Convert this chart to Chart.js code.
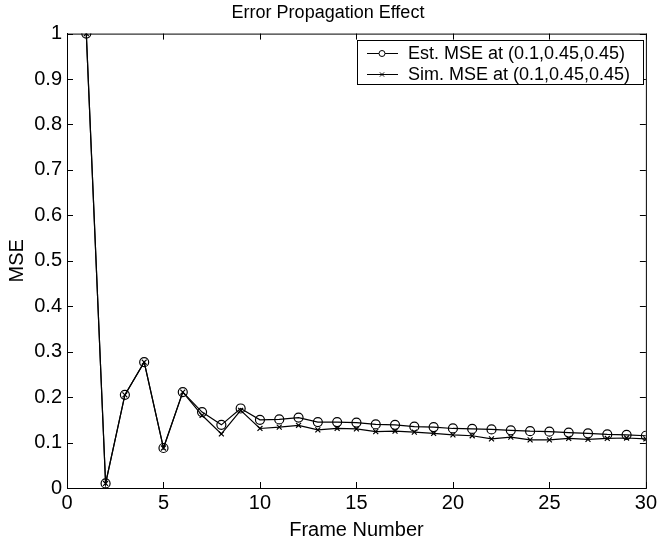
<!DOCTYPE html>
<html>
<head>
<meta charset="utf-8">
<script src="https://cdn.jsdelivr.net/npm/chart.js@4"></script>
<style>
  html, body { margin: 0; padding: 0; background: #fff; }
  #wrap { width: 660px; height: 544px; }
</style>
</head>
<body>
<div id="wrap"><canvas id="c" width="660" height="544"></canvas></div>
<script>
const frames = [1,2,3,4,5,6,7,8,9,10,11,12,13,14,15,16,17,18,19,20,21,22,23,24,25,26,27,28,29,30];
const estMSE = [1.0,0.010,0.205,0.277,0.088,0.211,0.167,0.139,0.175,0.150,0.151,0.155,0.145,0.145,0.144,0.140,0.139,0.135,0.134,0.131,0.130,0.129,0.127,0.125,0.124,0.122,0.120,0.118,0.117,0.115];
const simMSE = [1.0,0.010,0.205,0.277,0.088,0.211,0.160,0.119,0.171,0.131,0.134,0.138,0.128,0.131,0.130,0.124,0.125,0.123,0.120,0.117,0.115,0.108,0.112,0.106,0.106,0.109,0.107,0.109,0.110,0.108];
const xTicks = [0,5,10,15,20,25,30];
const yTicks = [0,0.1,0.2,0.3,0.4,0.5,0.6,0.7,0.8,0.9,1];
const seriesNames = ['Est. MSE at (0.1,0.45,0.45)', 'Sim. MSE at (0.1,0.45,0.45)'];

const FONT = 'Liberation Sans, Arial, Helvetica, sans-serif';

// MATLAB style box: inward ticks on all four sides plus top/right border
const boxPlugin = {
  id: 'box',
  afterDraw(chart) {
    const ctx = chart.ctx;
    const a = chart.chartArea;
    const xs = chart.scales.x, ys = chart.scales.y;
    const len = 6;
    ctx.save();
    ctx.strokeStyle = '#000';
    ctx.lineWidth = 1;
    ctx.strokeRect(a.left + 0.5, a.top + 0.5, a.right - a.left, a.bottom - a.top);
    ctx.beginPath();
    xTicks.forEach(v => {
      const px = Math.round(xs.getPixelForValue(v)) + 0.5;
      ctx.moveTo(px, a.bottom); ctx.lineTo(px, a.bottom - len);
      ctx.moveTo(px, a.top); ctx.lineTo(px, a.top + len);
    });
    yTicks.forEach(v => {
      const py = Math.round(ys.getPixelForValue(v)) + 0.5;
      ctx.moveTo(a.left, py); ctx.lineTo(a.left + len, py);
      ctx.moveTo(a.right, py); ctx.lineTo(a.right - len, py);
    });
    ctx.stroke();

    // legend box in the top right corner
    const bx = 357, by = 40, bw = 286, bh = 44;
    ctx.fillStyle = '#fff';
    ctx.fillRect(bx, by, bw, bh);
    ctx.strokeRect(bx + 0.5, by + 0.5, bw, bh);
    ctx.font = '18px ' + FONT;
    ctx.textBaseline = 'middle';
    chart.data.datasets.forEach((ds, i) => {
      const cy = by + 13 + i * 21;
      ctx.beginPath();
      ctx.lineWidth = 1;
      ctx.moveTo(bx + 10, cy + 0.5); ctx.lineTo(bx + 41, cy + 0.5);
      ctx.stroke();
      Chart.helpers.drawPoint(ctx, {
        pointStyle: ds.pointStyle, radius: 3, borderWidth: 1
      }, bx + 25, cy + 0.5);
      ctx.fillStyle = '#000';
      ctx.fillText(seriesNames[i], bx + 51, cy + 1);
    });
    ctx.restore();
  }
};

new Chart(document.getElementById('c'), {
  type: 'line',
  data: {
    datasets: [
      {
        label: seriesNames[0],
        data: frames.map((f, i) => ({ x: f, y: estMSE[i] })),
        borderColor: '#000', borderWidth: 1.2,
        backgroundColor: 'rgba(0,0,0,0)',
        pointStyle: 'circle', pointRadius: 4.5, pointBorderWidth: 1.2,
        pointBorderColor: '#000', pointBackgroundColor: 'rgba(0,0,0,0)',
        tension: 0
      },
      {
        label: seriesNames[1],
        data: frames.map((f, i) => ({ x: f, y: simMSE[i] })),
        borderColor: '#000', borderWidth: 1.2,
        backgroundColor: 'rgba(0,0,0,0)',
        pointStyle: 'crossRot', pointRadius: 3.5, pointBorderWidth: 1.2,
        pointBorderColor: '#000',
        tension: 0
      }
    ]
  },
  options: {
    responsive: false,
    animation: false,
    layout: { padding: { top: 2, right: 9, left: 5, bottom: 0 } },
    plugins: {
      legend: { display: false },
      tooltip: { enabled: false },
      title: {
        display: true,
        text: 'Error Propagation Effect',
        color: '#000',
        font: { family: FONT, size: 18, weight: 'normal' },
        padding: { top: 0, bottom: 10 }
      }
    },
    scales: {
      x: {
        type: 'linear', min: 0, max: 30,
        afterBuildTicks: s => { s.ticks = xTicks.map(v => ({ value: v })); },
        afterFit: s => { s.height = 56; },
        grid: { drawOnChartArea: false, drawTicks: false },
        border: { display: true, color: '#000' },
        ticks: { color: '#000', padding: 3, maxRotation: 0, font: { family: FONT, size: 20 } },
        title: { display: true, text: 'Frame Number', color: '#000', padding: { top: 0, bottom: 2 }, font: { family: FONT, size: 20 } }
      },
      y: {
        type: 'linear', min: 0, max: 1,
        afterBuildTicks: s => { s.ticks = yTicks.map(v => ({ value: v })); },
        afterFit: s => { s.width = 62; },
        grid: { drawOnChartArea: false, drawTicks: false },
        border: { display: true, color: '#000' },
        ticks: { color: '#000', padding: 5, font: { family: FONT, size: 20 }, callback: v => String(Math.round(v * 10) / 10) },
        title: { display: true, text: 'MSE', color: '#000', padding: 0, font: { family: FONT, size: 20 } }
      }
    }
  },
  plugins: [boxPlugin]
});
</script>
</body>
</html>
